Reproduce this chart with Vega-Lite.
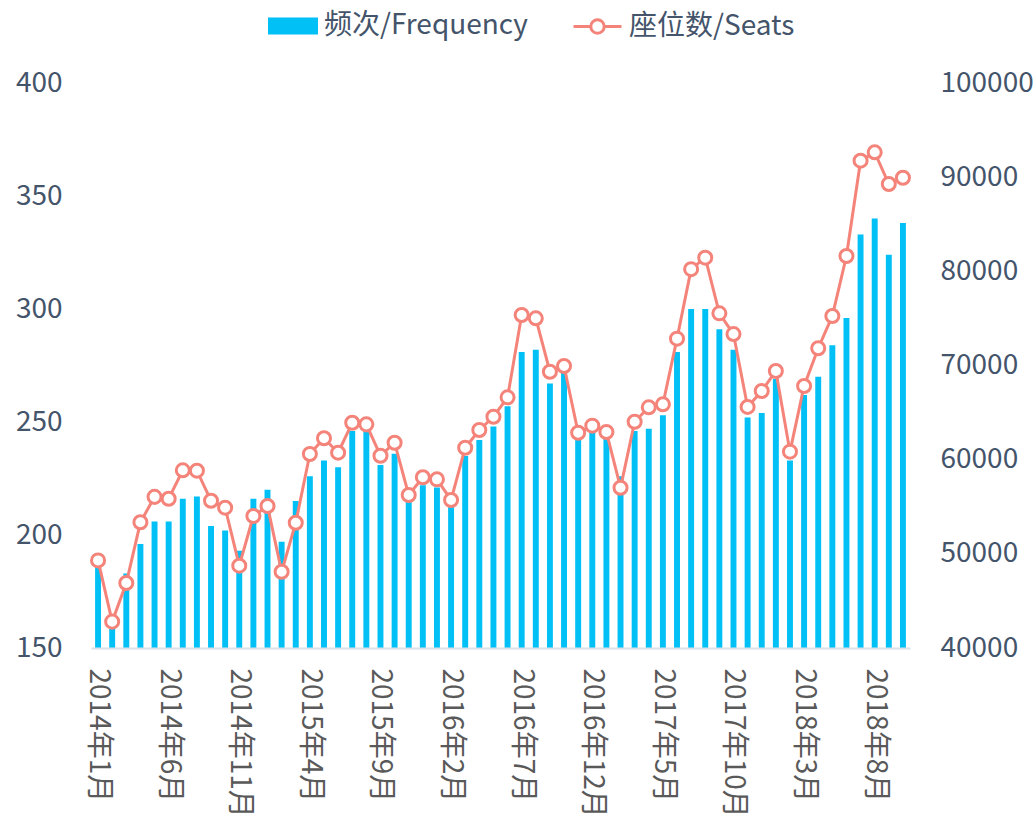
{
  "$schema": "https://vega.github.io/schema/vega-lite/v6.json",
  "width": 819,
  "height": 565,
  "autosize": {"type": "none"},
  "padding": {"left": 91, "top": 83, "right": 126, "bottom": 170},
  "config": {
    "view": {"stroke": null},
    "font": "Noto Sans CJK SC",
    "axis": {"labelFont": "Noto Sans CJK SC", "grid": false, "ticks": false, "title": null},
    "legend": {"labelFont": "Noto Sans CJK SC"}
  },
  "data": {
    "values": [
      {"month": "2014年1月", "freq": 186, "seats": 49300},
      {"month": "2014年2月", "freq": 163, "seats": 42800},
      {"month": "2014年3月", "freq": 183, "seats": 46900},
      {"month": "2014年4月", "freq": 196, "seats": 53350},
      {"month": "2014年5月", "freq": 206, "seats": 56050},
      {"month": "2014年6月", "freq": 206, "seats": 55850},
      {"month": "2014年7月", "freq": 216, "seats": 58870},
      {"month": "2014年8月", "freq": 217, "seats": 58830},
      {"month": "2014年9月", "freq": 204, "seats": 55640},
      {"month": "2014年10月", "freq": 202, "seats": 54900},
      {"month": "2014年11月", "freq": 193, "seats": 48740},
      {"month": "2014年12月", "freq": 216, "seats": 54020},
      {"month": "2015年1月", "freq": 220, "seats": 55080},
      {"month": "2015年2月", "freq": 197, "seats": 48100},
      {"month": "2015年3月", "freq": 215, "seats": 53300},
      {"month": "2015年4月", "freq": 226, "seats": 60600},
      {"month": "2015年5月", "freq": 233, "seats": 62270},
      {"month": "2015年6月", "freq": 230, "seats": 60740},
      {"month": "2015年7月", "freq": 246, "seats": 63920},
      {"month": "2015年8月", "freq": 247, "seats": 63750},
      {"month": "2015年9月", "freq": 231, "seats": 60420},
      {"month": "2015年10月", "freq": 236, "seats": 61800},
      {"month": "2015年11月", "freq": 217, "seats": 56250},
      {"month": "2015年12月", "freq": 222, "seats": 58130},
      {"month": "2016年1月", "freq": 221, "seats": 57910},
      {"month": "2016年2月", "freq": 213, "seats": 55720},
      {"month": "2016年3月", "freq": 235, "seats": 61270},
      {"month": "2016年4月", "freq": 242, "seats": 63150},
      {"month": "2016年5月", "freq": 248, "seats": 64560},
      {"month": "2016年6月", "freq": 257, "seats": 66620},
      {"month": "2016年7月", "freq": 281, "seats": 75360},
      {"month": "2016年8月", "freq": 282, "seats": 75010},
      {"month": "2016年9月", "freq": 267, "seats": 69340},
      {"month": "2016年10月", "freq": 272, "seats": 69950},
      {"month": "2016年11月", "freq": 243, "seats": 62860},
      {"month": "2016年12月", "freq": 246, "seats": 63610},
      {"month": "2017年1月", "freq": 243, "seats": 62940},
      {"month": "2017年2月", "freq": 226, "seats": 57020},
      {"month": "2017年3月", "freq": 246, "seats": 64030},
      {"month": "2017年4月", "freq": 247, "seats": 65560},
      {"month": "2017年5月", "freq": 253, "seats": 65880},
      {"month": "2017年6月", "freq": 281, "seats": 72850},
      {"month": "2017年7月", "freq": 300, "seats": 80230},
      {"month": "2017年8月", "freq": 300, "seats": 81450},
      {"month": "2017年9月", "freq": 291, "seats": 75540},
      {"month": "2017年10月", "freq": 282, "seats": 73340},
      {"month": "2017年11月", "freq": 252, "seats": 65600},
      {"month": "2017年12月", "freq": 254, "seats": 67290},
      {"month": "2018年1月", "freq": 269, "seats": 69420},
      {"month": "2018年2月", "freq": 233, "seats": 60850},
      {"month": "2018年3月", "freq": 262, "seats": 67820},
      {"month": "2018年4月", "freq": 270, "seats": 71830},
      {"month": "2018年5月", "freq": 284, "seats": 75260},
      {"month": "2018年6月", "freq": 296, "seats": 81630},
      {"month": "2018年7月", "freq": 333, "seats": 91750},
      {"month": "2018年8月", "freq": 340, "seats": 92640},
      {"month": "2018年9月", "freq": 324, "seats": 89270},
      {"month": "2018年10月", "freq": 338, "seats": 89940}
    ]
  },
  "encoding": {
    "x": {
      "field": "month",
      "type": "ordinal",
      "sort": null,
      "scale": {"paddingInner": 0.58, "paddingOuter": 0.29, "align": 0.5},
      "axis": {
        "values": ["2014年1月", "2014年6月", "2014年11月", "2015年4月", "2015年9月", "2016年2月", "2016年7月", "2016年12月", "2017年5月", "2017年10月", "2018年3月", "2018年8月"],
        "labelAngle": 90,
        "labelFontSize": 28,
        "labelColor": "#595959",
        "labelPadding": 20,
        "domainColor": "#DCE1E8",
        "domainWidth": 2,
        "labelOverlap": false,
        "zindex": 1
      }
    }
  },
  "layer": [
    {
      "mark": {"type": "bar", "clip": true},
      "encoding": {
        "y": {
          "field": "freq",
          "type": "quantitative",
          "scale": {"domain": [150, 400], "nice": false, "zero": false},
          "axis": {"orient": "left", "values": [150, 200, 250, 300, 350, 400], "domain": false, "labelFontSize": 28, "labelColor": "#44546A", "labelPadding": 29}
        },
        "color": {
          "datum": "频次/Frequency",
          "scale": {"range": ["#00C0F6"]},
          "legend": {
            "orient": "none",
            "legendX": 177,
            "legendY": -82,
            "title": null,
            "symbolType": "M-1,-0.34L1,-0.34L1,0.34L-1,0.34Z",
            "symbolSize": 2500,
            "symbolStrokeWidth": 0,
            "labelFontSize": 28,
            "labelColor": "#44546A",
            "labelOffset": 6,
            "labelLimit": 0,
            "padding": 0
          }
        }
      }
    },
    {
      "mark": {"type": "line", "strokeWidth": 3},
      "encoding": {
        "y": {
          "field": "seats",
          "type": "quantitative",
          "scale": {"domain": [40000, 100000], "nice": false, "zero": false},
          "axis": {"orient": "right", "values": [40000, 50000, 60000, 70000, 80000, 90000, 100000], "format": "d", "domain": false, "labelFontSize": 28, "labelColor": "#44546A", "labelPadding": 30}
        },
        "stroke": {
          "datum": "座位数/Seats",
          "scale": {"range": ["#F4837A"]},
          "legend": {
            "orient": "none",
            "legendX": 481,
            "legendY": -82,
            "title": null,
            "symbolType": "M-1,0L-0.28,0M0.28,0L1,0M0.28,0A0.28,0.28 0 1 1 -0.28,0A0.28,0.28 0 1 1 0.28,0Z",
            "symbolSize": 2304,
            "symbolStrokeWidth": 3,
            "symbolFillColor": "white",
            "labelFontSize": 28,
            "labelColor": "#44546A",
            "labelOffset": 6,
            "labelLimit": 0,
            "padding": 0
          }
        }
      }
    },
    {
      "mark": {"type": "point", "shape": "circle", "size": 170, "filled": true, "fill": "white", "stroke": "#F4837A", "strokeWidth": 3, "opacity": 1},
      "encoding": {
        "y": {"field": "seats", "type": "quantitative", "scale": {"domain": [40000, 100000], "nice": false, "zero": false}, "axis": null}
      }
    }
  ],
  "resolve": {"scale": {"y": "independent", "color": "independent", "stroke": "independent"}}
}
